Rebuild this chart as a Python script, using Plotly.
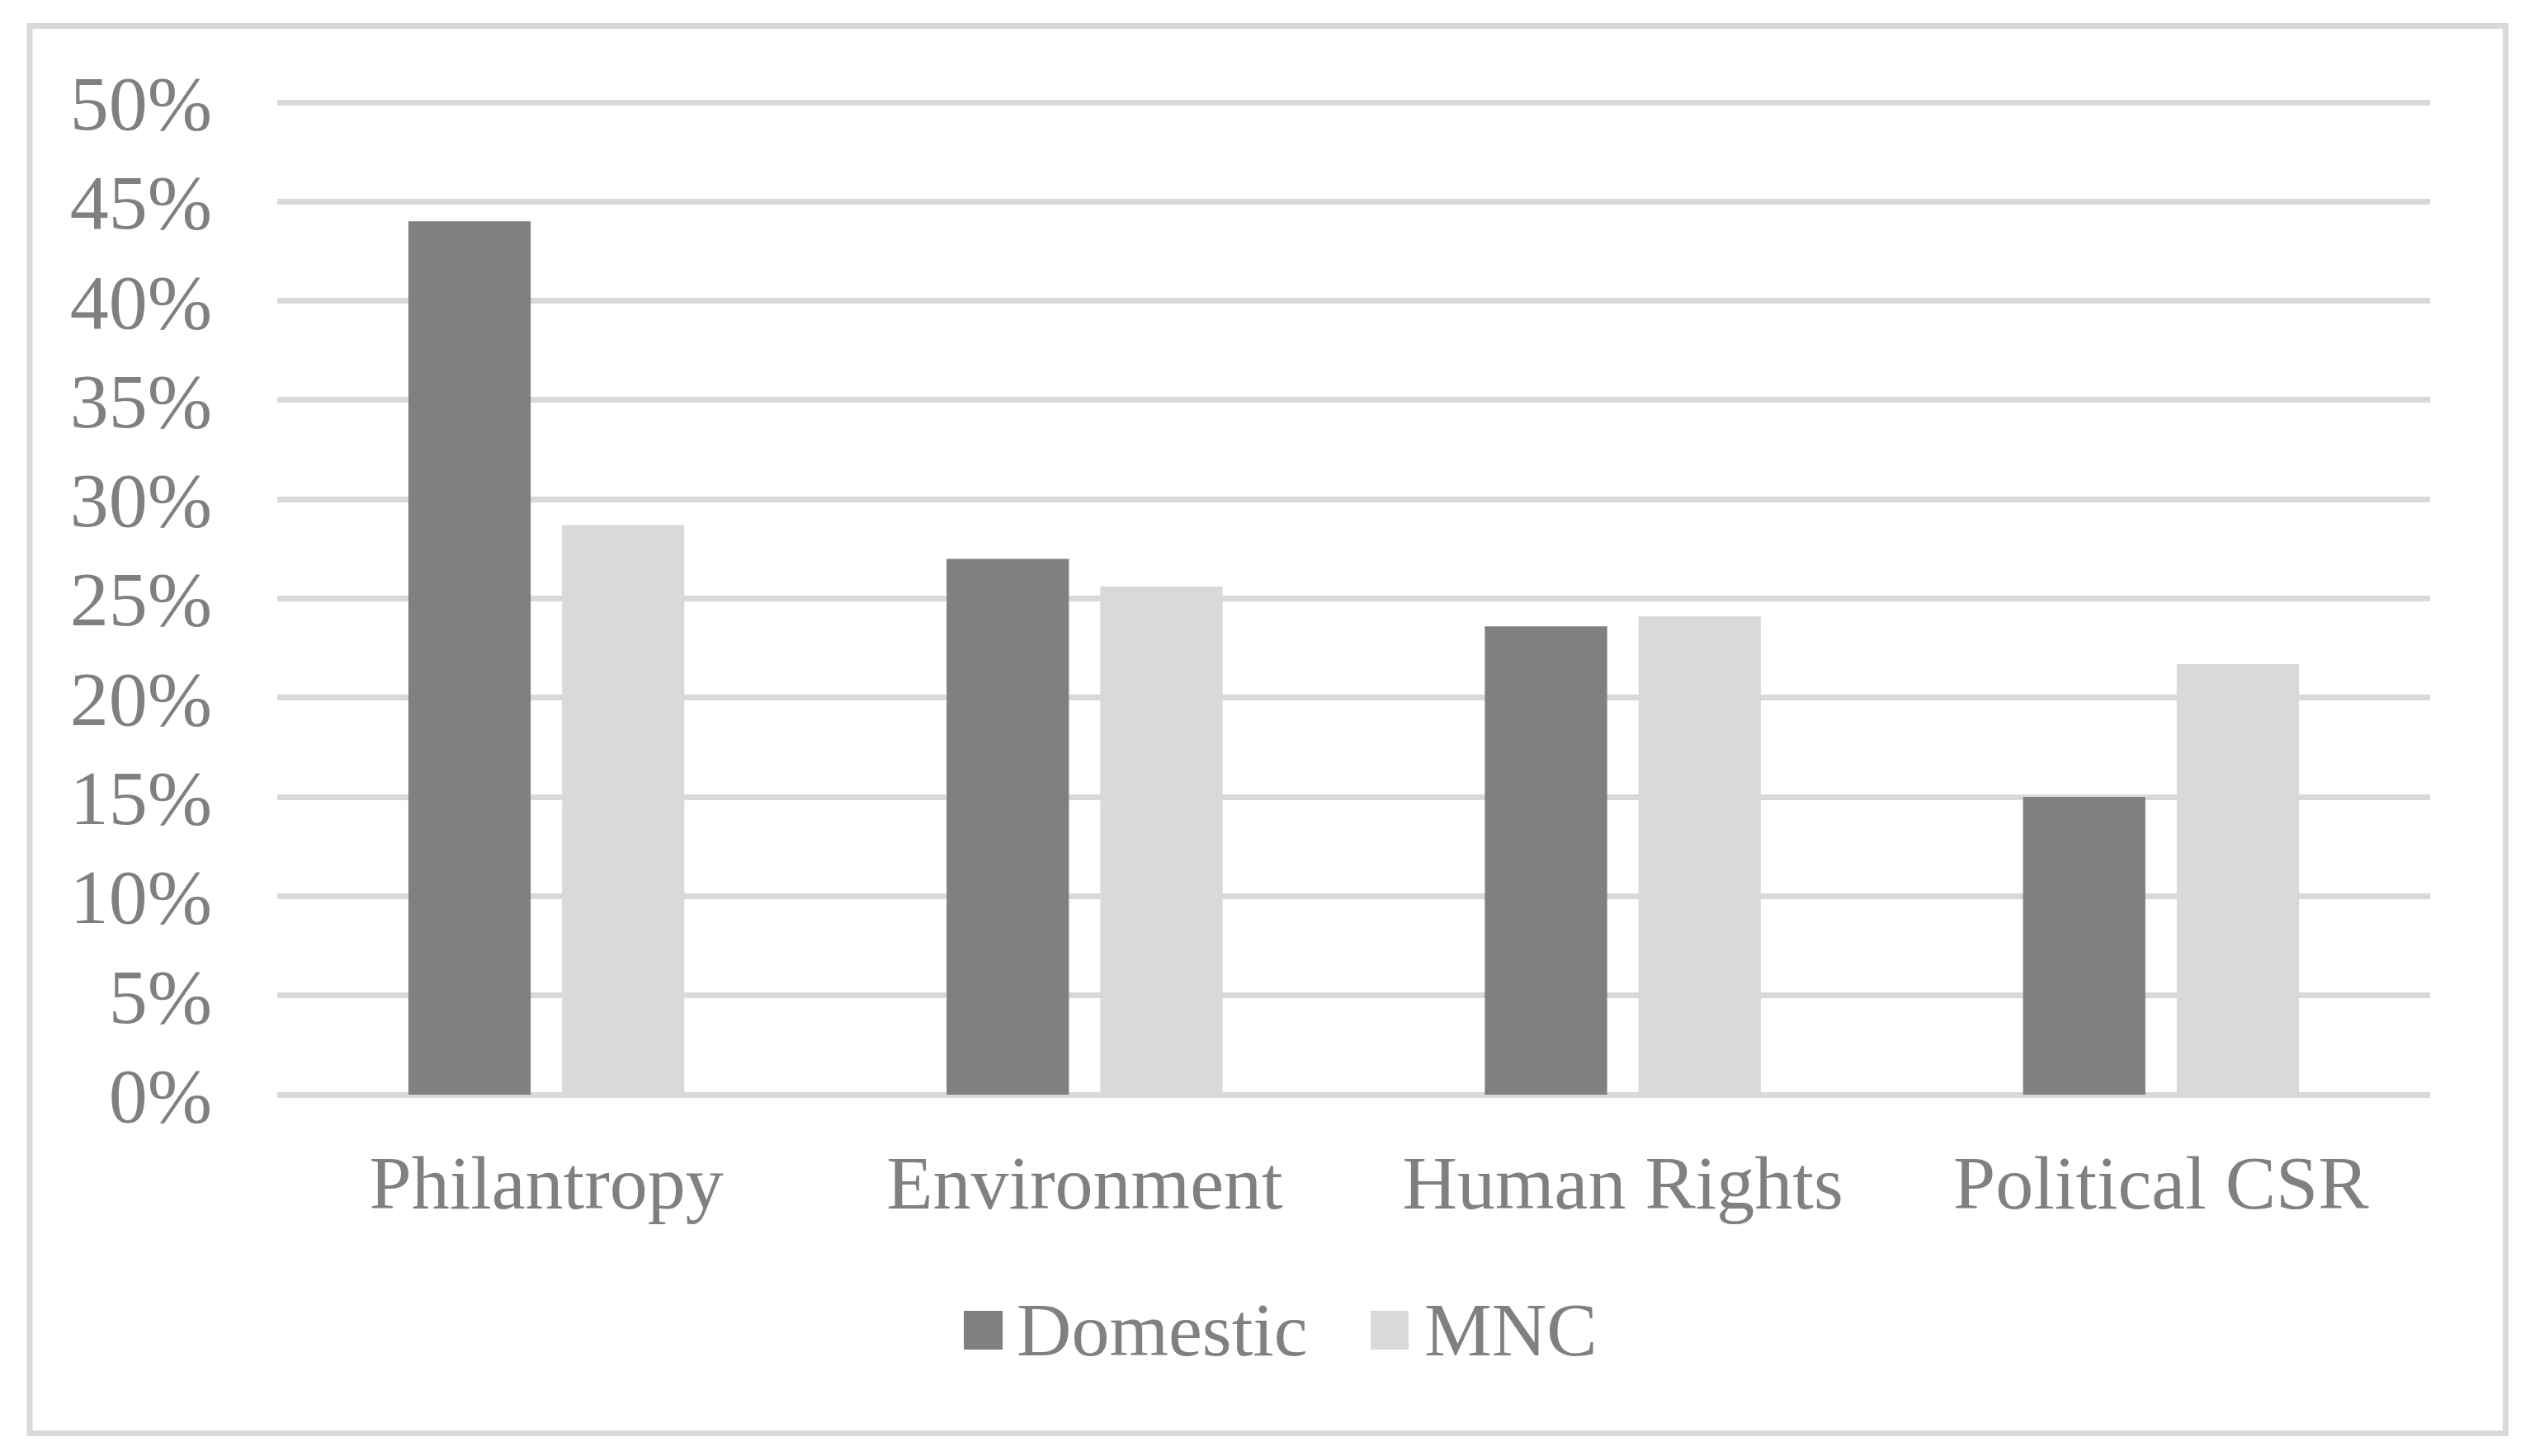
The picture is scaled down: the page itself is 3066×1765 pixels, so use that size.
import plotly.graph_objects as go

categories = ["Philantropy", "Environment", "Human Rights", "Political CSR"]
domestic = [0.440, 0.270, 0.236, 0.150]
mnc = [0.287, 0.256, 0.241, 0.217]
series_names = ["Domestic", "MNC"]
tick_vals = [0, 0.05, 0.10, 0.15, 0.20, 0.25, 0.30, 0.35, 0.40, 0.45, 0.50]
tick_text = ["0%", "5%", "10%", "15%", "20%", "25%", "30%", "35%", "40%", "45%", "50%"]

W, H = 3066, 1765
OFF = 8  # default page body margin
Y_MAX = 0.5
Y_TOP = 0.5025  # small headroom so the 50% gridline is drawn

# target screen positions: plot x from 336 to 2945, 0% at y=1327, 50% at y=124
px_per_unit = (1327 - 124) / Y_MAX
PW = 2945 - 336
PH = px_per_unit * Y_TOP
L = 336 - OFF
T = 1327 - PH - OFF
R = W - L - PW
B = H - T - PH

DARK = "#808080"
LIGHT = "#d9d9d9"
FONT = "Liberation Serif, Times New Roman, serif"


def px_x(p):
    return (p - OFF - L) / PW


def px_y(p):
    return (H - B - (p - OFF)) / PH


fig = go.Figure()
fig.add_trace(go.Bar(x=categories, y=domestic, name=series_names[0],
                     marker=dict(color=DARK, line=dict(width=0)), showlegend=False))
fig.add_trace(go.Bar(x=categories, y=mnc, name=series_names[1],
                     marker=dict(color=LIGHT, line=dict(width=0)), showlegend=False))

shapes = [
    # outer chart border
    dict(type="rect", xref="paper", yref="paper",
         x0=px_x(36), x1=px_x(3036.5), y0=px_y(31.5), y1=px_y(1737.5),
         line=dict(color=LIGHT, width=7), fillcolor="rgba(0,0,0,0)", layer="below"),
    # legend swatches
    dict(type="rect", xref="paper", yref="paper",
         x0=px_x(1168), x1=px_x(1215), y0=px_y(1589), y1=px_y(1636),
         line=dict(width=0), fillcolor=DARK),
    dict(type="rect", xref="paper", yref="paper",
         x0=px_x(1661), x1=px_x(1707), y0=px_y(1589), y1=px_y(1636),
         line=dict(width=0), fillcolor=LIGHT),
]

annotations = [
    dict(text=series_names[0], xref="paper", yref="paper", x=px_x(1230), y=px_y(1612),
         xanchor="left", yanchor="middle", showarrow=False,
         font=dict(family=FONT, size=92, color=DARK)),
    dict(text=series_names[1], xref="paper", yref="paper", x=px_x(1724), y=px_y(1612),
         xanchor="left", yanchor="middle", showarrow=False,
         font=dict(family=FONT, size=92, color=DARK)),
]

fig.update_layout(
    width=W, height=H,
    margin=dict(l=L, r=R, t=T, b=B, autoexpand=False),
    paper_bgcolor="white", plot_bgcolor="white",
    barmode="group", bargap=0.429, bargroupgap=0.204,
    font=dict(family=FONT, size=92, color=DARK),
    shapes=shapes, annotations=annotations,
    showlegend=False,
)
fig.update_xaxes(showgrid=False, showline=False, ticks="", ticklabelstandoff=45,
                 tickfont=dict(family=FONT, size=92, color=DARK))
fig.update_yaxes(range=[0, Y_TOP], tickvals=tick_vals, ticktext=tick_text,
                 showgrid=True, gridcolor=LIGHT, gridwidth=7,
                 zeroline=True, zerolinecolor=LIGHT, zerolinewidth=7,
                 showline=False, ticks="", ticklabelstandoff=78,
                 tickfont=dict(family=FONT, size=94, color=DARK))

fig.write_html("out.html")
